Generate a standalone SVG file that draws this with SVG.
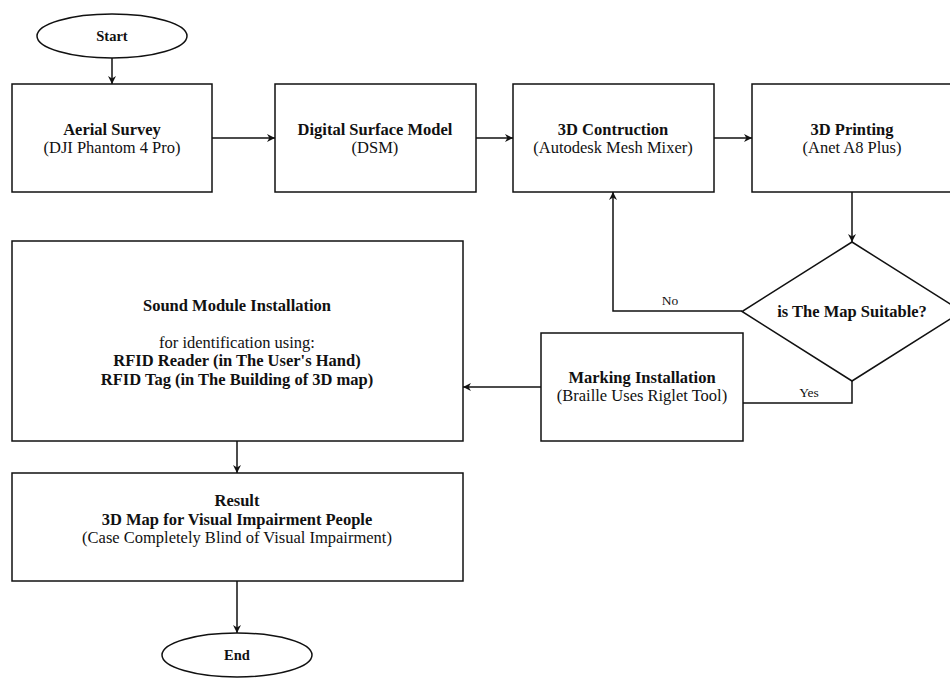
<svg xmlns="http://www.w3.org/2000/svg" width="950" height="679" viewBox="0 0 950 679" font-family="'Liberation Serif', 'DejaVu Serif', serif">
<style>
.s{fill:#fff;stroke:#111;stroke-width:1.5}
.t{font-family:'Liberation Serif','DejaVu Serif',serif;font-size:16.5px;fill:#111;text-anchor:middle}
.b{font-weight:bold}
.sm{font-size:14.5px}
.lb{font-family:'Liberation Serif','DejaVu Serif',serif;font-size:13.5px;fill:#111;text-anchor:middle}
.c{fill:none;stroke:#111;stroke-width:1.5}
</style>
<defs>
<marker id="a" viewBox="0 0 10 10" refX="10" refY="5" markerWidth="8" markerHeight="8" markerUnits="userSpaceOnUse" orient="auto">
<path d="M0,0 L10,5 L0,10 L3,5 z" fill="#111"/>
</marker>
</defs>
<rect width="950" height="679" fill="#fff"/>
<g id="connectors">
<path class="c" d="M112,58 V84" marker-end="url(#a)"/>
<path class="c" d="M212,138 H275" marker-end="url(#a)"/>
<path class="c" d="M476,138 H513" marker-end="url(#a)"/>
<path class="c" d="M714,138 H752" marker-end="url(#a)"/>
<path class="c" d="M852,192 V242" marker-end="url(#a)"/>
<path class="c" d="M742,311 H613 V192" marker-end="url(#a)"/>
<path class="c" d="M852,381 V403 H743"/>
<path class="c" d="M541,387 H463" marker-end="url(#a)"/>
<path class="c" d="M237,441 V473" marker-end="url(#a)"/>
<path class="c" d="M237,581 V633" marker-end="url(#a)"/>
<text class="lb" x="670" y="305">No</text>
<text class="lb" x="809" y="397">Yes</text>
</g>
<g id="start">
<ellipse class="s" cx="112" cy="36" rx="75" ry="22"/>
<text class="t b sm" x="112" y="41">Start</text>
</g>
<g id="aerial">
<rect class="s" x="12" y="84" width="200" height="108"/>
<text class="t b" x="112" y="134.5">Aerial Survey</text>
<text class="t" x="112" y="153">(DJI Phantom 4 Pro)</text>
</g>
<g id="dsm">
<rect class="s" x="275" y="84" width="201" height="108"/>
<text class="t b" x="375" y="134.5">Digital Surface Model</text>
<text class="t" x="375" y="153">(DSM)</text>
</g>
<g id="construction">
<rect class="s" x="513" y="84" width="201" height="108"/>
<text class="t b" x="613" y="134.5">3D Contruction</text>
<text class="t" x="613" y="153">(Autodesk Mesh Mixer)</text>
</g>
<g id="printing">
<rect class="s" x="752" y="84" width="200" height="108"/>
<text class="t b" x="852" y="134.5">3D Printing</text>
<text class="t" x="852" y="153">(Anet A8 Plus)</text>
</g>
<g id="decision">
<polygon class="s" points="852,242 962,311.5 852,381 742,311.5"/>
<text class="t b" x="852" y="317">is The Map Suitable?</text>
</g>
<g id="marking">
<rect class="s" x="541" y="333" width="202" height="108"/>
<text class="t b" x="642" y="382.5">Marking Installation</text>
<text class="t" x="642" y="401">(Braille Uses Riglet Tool)</text>
</g>
<g id="sound">
<rect class="s" x="12" y="241" width="451" height="200"/>
<text class="t b" x="237" y="311">Sound Module Installation</text>
<text class="t" x="237" y="347.5">for identification using:</text>
<text class="t b" x="237" y="366">RFID Reader (in The User's Hand)</text>
<text class="t b" x="237" y="384.5">RFID Tag (in The Building of 3D map)</text>
</g>
<g id="result">
<rect class="s" x="12" y="473" width="451" height="108"/>
<text class="t b" x="237" y="506">Result</text>
<text class="t b" x="237" y="524.5">3D Map for Visual Impairment People</text>
<text class="t" x="237" y="543">(Case Completely Blind of Visual Impairment)</text>
</g>
<g id="end">
<ellipse class="s" cx="237" cy="655" rx="75" ry="22"/>
<text class="t b sm" x="237" y="660">End</text>
</g>
</svg>
